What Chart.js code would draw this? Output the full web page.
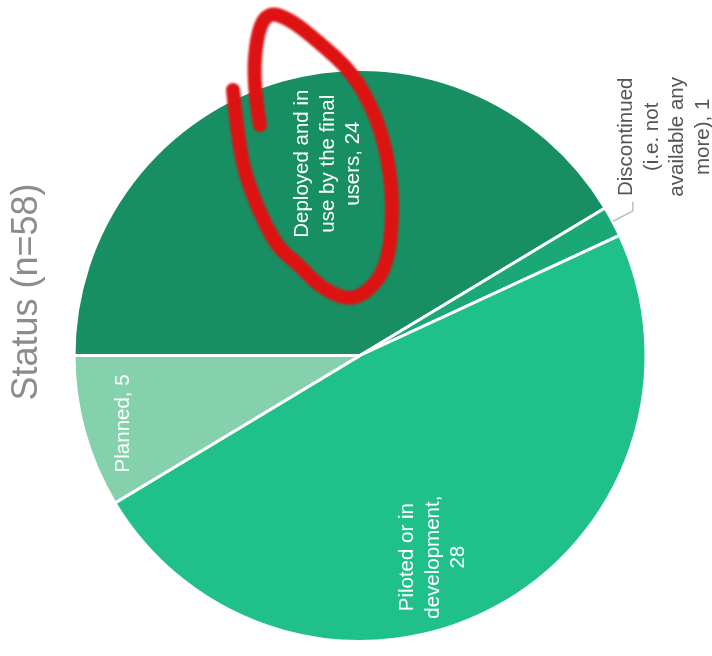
<!DOCTYPE html>
<html>
<head>
<meta charset="utf-8">
<script src="https://cdn.jsdelivr.net/npm/chart.js@4.4.1/dist/chart.umd.min.js"></script>
<style>
  html, body { margin: 0; padding: 0; background: #fff; }
  #wrap { position: relative; width: 712px; height: 656px; }
</style>
</head>
<body>
<div id="wrap"><canvas id="statusChart"></canvas></div>
<script>
const statusNames = [
  'Deployed and in use by the final users',
  'Discontinued (i.e. not available any more)',
  'Piloted or in development',
  'Planned'
];
const statusCounts = [24, 1, 28, 5];
const sliceColors = ['#178f62', '#1aa877', '#20c08a', '#85d1ad'];
const chartTitle = 'Status (n=58)';

// where each label sits: fraction of radius + angle nudge (deg), or outside with a leader
const labelPlace = [
  { frac: 0.68, shift: 6, wrap: 162 },
  { outside: true, wrap: 126 },
  { frac: 0.75, shift: 8, wrap: 136 },
  { frac: 0.86, shift: -0.5, wrap: 200 }
];

const FONT = '"Liberation Sans", Arial, sans-serif';

function wrapText(ctx, text, maxWidth) {
  const words = text.split(' ');
  const lines = [];
  let cur = '';
  words.forEach(w => {
    const test = cur ? cur + ' ' + w : w;
    if (cur && ctx.measureText(test).width > maxWidth) {
      lines.push(cur);
      cur = w;
    } else {
      cur = test;
    }
  });
  if (cur) lines.push(cur);
  return lines;
}

function drawRotatedBlock(ctx, lines, x, y, lineH) {
  ctx.save();
  ctx.translate(x, y);
  ctx.rotate(-Math.PI / 2);
  ctx.textAlign = 'center';
  ctx.textBaseline = 'middle';
  lines.forEach((line, i) => {
    ctx.fillText(line, 0, (i - (lines.length - 1) / 2) * lineH);
  });
  ctx.restore();
}

const sliceLabels = {
  id: 'sliceLabels',
  afterDatasetsDraw(chart) {
    const ctx = chart.ctx;
    const arcs = chart.getDatasetMeta(0).data;
    ctx.save();
    ctx.font = '20.5px ' + FONT;
    arcs.forEach((arc, i) => {
      const { x, y, startAngle, endAngle, outerRadius } = arc.getProps(['x', 'y', 'startAngle', 'endAngle', 'outerRadius']);
      const place = labelPlace[i];
      const mid = (startAngle + endAngle) / 2;
      const text = statusNames[i] + ', ' + statusCounts[i];
      const lines = wrapText(ctx, text, place.wrap);
      if (place.outside) {
        const sx = x + Math.cos(mid) * outerRadius;
        const sy = y + Math.sin(mid) * outerRadius;
        const ex = x + Math.cos(mid) * outerRadius * 1.08;
        const ey = y + Math.sin(mid) * outerRadius * 1.08;
        ctx.strokeStyle = '#bdbdbd';
        ctx.lineWidth = 1.5;
        ctx.beginPath();
        ctx.moveTo(sx, sy);
        ctx.lineTo(ex, ey);
        ctx.lineTo(ex, ey - 9);
        ctx.stroke();
        ctx.fillStyle = '#555';
        drawRotatedBlock(ctx, lines, ex + 32, ey - 74, 25.5);
      } else {
        const a = mid + place.shift * Math.PI / 180;
        const r = outerRadius * place.frac;
        ctx.fillStyle = '#fff';
        drawRotatedBlock(ctx, lines, x + Math.cos(a) * r, y + Math.sin(a) * r, 25.5);
      }
    });
    // title runs up the left side
    ctx.font = '36px ' + FONT;
    ctx.fillStyle = '#8c8c8c';
    drawRotatedBlock(ctx, [chartTitle], 27, 292, 40);
    ctx.restore();
  }
};

// red pen circle drawn over the chart
const penMark = [
  [260, 125], [253, 83], [257, 33], [268, 12], [290, 19], [320, 43], [353, 73],
  [377, 117], [390, 167], [393, 217], [387, 267], [367, 293], [347, 300],
  [320, 287], [297, 263], [277, 247], [257, 207], [243, 167], [237, 127], [233, 90]
];

const penOverlay = {
  id: 'penOverlay',
  afterDraw(chart) {
    const ctx = chart.ctx;
    ctx.save();
    ctx.filter = 'blur(0.8px)';
    ctx.strokeStyle = '#dd1313';
    ctx.lineWidth = 14;
    ctx.lineCap = 'round';
    ctx.lineJoin = 'round';
    ctx.beginPath();
    ctx.moveTo(penMark[0][0], penMark[0][1]);
    for (let i = 1; i < penMark.length - 1; i++) {
      const mx = (penMark[i][0] + penMark[i + 1][0]) / 2;
      const my = (penMark[i][1] + penMark[i + 1][1]) / 2;
      ctx.quadraticCurveTo(penMark[i][0], penMark[i][1], mx, my);
    }
    const last = penMark[penMark.length - 1];
    ctx.lineTo(last[0], last[1]);
    ctx.stroke();
    ctx.restore();
  }
};

new Chart(document.getElementById('statusChart'), {
  type: 'pie',
  data: {
    labels: statusNames,
    datasets: [{
      data: statusCounts,
      backgroundColor: sliceColors,
      borderColor: '#fff',
      borderWidth: 3,
      hoverOffset: 0
    }]
  },
  options: {
    responsive: true,
    maintainAspectRatio: false,
    animation: false,
    events: [],
    rotation: 270,
    layout: { padding: { top: 68, bottom: 13, left: 60, right: 52 } },
    plugins: {
      legend: { display: false },
      tooltip: { enabled: false },
      title: { display: false }
    }
  },
  plugins: [sliceLabels, penOverlay]
});
</script>
</body>
</html>
